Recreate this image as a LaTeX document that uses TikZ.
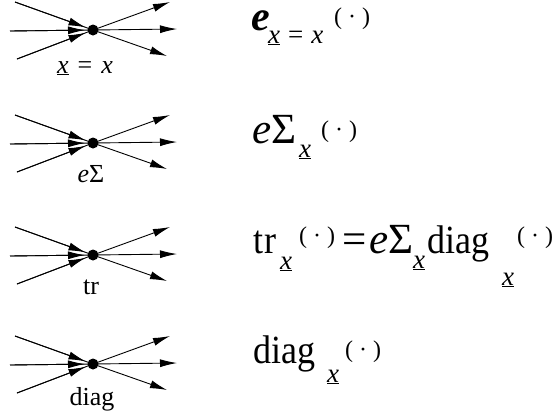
\documentclass[tikz,border=0pt]{standalone}
\usepackage{fontspec}
\setmainfont{Liberation Serif}
\usetikzlibrary{arrows.meta}
\tikzset{
 edge/.style={line width=0.9pt},
 inarrow/.style={-{Latex[length=17pt,width=8pt]}, shorten >=8pt, line width=0.9pt},
 outarrow/.style={-{Latex[length=17pt,width=8pt]}, line width=0.9pt},
 vtx/.style={circle, fill, inner sep=0pt, minimum size=11pt},
 lbl/.style={font=\fontsize{26}{26}\selectfont, anchor=base, inner sep=0pt},
 big/.style={font=\fontsize{40}{40}\selectfont, xscale=0.9, anchor=base west, inner sep=0pt},
 bigm/.style={font=\fontsize{43}{43}\selectfont, anchor=base west, inner sep=0pt},
 sub/.style={font=\fontsize{27}{27}\selectfont, anchor=base west, inner sep=0pt},
 sup/.style={font=\fontsize{24}{24}\selectfont, anchor=base west, inner sep=0pt},
}
\newcommand{\ux}{\underline{\textit{x}}}
\newcommand{\dotarg}{(\hspace{6pt}·\hspace{6pt})}
\begin{document}
\begin{tikzpicture}[x=1pt,y=-1pt]
\useasboundingbox (0,0) rectangle (560,416);
\foreach \i/\y in {1/30,2/143,3/255,4/364}{
  \node[vtx] (d\i) at (93,\y) {};
  \coordinate (a\i) at (15,\y-28);
  \coordinate (b\i) at (10,\y+1);
  \coordinate (c\i) at (17,\y+29);
  \coordinate (p\i) at (170,\y-28);
  \coordinate (q\i) at (177,\y-1);
  \coordinate (r\i) at (167,\y+26);
  \foreach \s in {a,b,c}{
    \draw[edge] (\s\i) -- (d\i.center);
    \draw[inarrow] (\s\i) -- (d\i.center);
  }
  \foreach \t in {p,q,r}{
    \draw[outarrow] (d\i.center) -- (\t\i);
  }
}
% labels
\node[lbl] (l1) at (85,73) {\ux\hspace{9pt}=\hspace{9pt}\textit{x}};
\node[lbl] (l2) at (91,182) {\textit{e}Σ};
\node[lbl] (l3) at (91,294) {tr};
\node[lbl] (l4) at (92,405) {diag};
% row 1
\node[font=\fontsize{42}{42}\selectfont\bfseries\itshape, anchor=base west, inner sep=0pt, text height=20pt] (e1) at (251,30) {e};
\node[sub] (s1) at (268,43) {\ux\hspace{8pt}=\hspace{8pt}\textit{x}};
\node[sup] (u1) at (334,24) {\dotarg};
% row 2
\node[bigm] (e2) at (252,143) {\textit{e}Σ};
\node[sub] (s2) at (299,157) {\ux};
\node[sup] (u2) at (321,137) {\dotarg};
% row 3
\node[big] (e3) at (253,253) {t\kern2pt r};
\node[sub] (s3) at (280,269) {\ux};
\node[sup] (u3) at (299,243) {\dotarg};
\node[bigm] (eq3) at (342,253) {=};
\node[bigm] (es3) at (369,253) {\textit{e}Σ};
\node[sub] (s3b) at (413,268) {\ux};
\node[big] (dg3) at (427,253) {diag};
\node[sub] (s3c) at (502,285) {\ux};
\node[sup] (u3c) at (517,243) {\dotarg};
% row 4
\node[big] (dg4) at (253,363) {diag};
\node[sub] (s4) at (327,382) {\ux};
\node[sup] (u4) at (345,357) {\dotarg};
\end{tikzpicture}
\end{document}
